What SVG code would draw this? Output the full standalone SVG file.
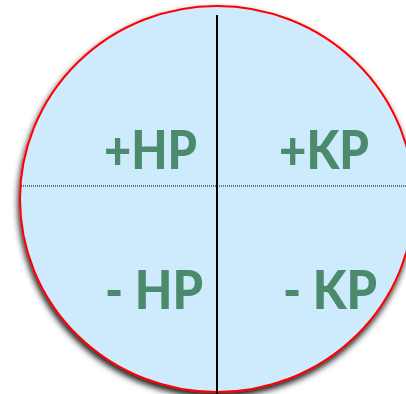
<svg xmlns="http://www.w3.org/2000/svg" width="406" height="394" viewBox="0 0 406 394">
<defs>
<filter id="sh" x="-10%" y="-10%" width="120%" height="125%">
<feDropShadow dx="-1" dy="4" stdDeviation="3" flood-color="#000" flood-opacity="0.9"/>
</filter>
<style>
.lbl{font-family:Lato,"Open Sans","Liberation Sans",sans-serif;font-weight:900;font-size:54px;fill:#4c8a6d}
</style>
</defs>
<g id="circle">
<ellipse cx="217" cy="199" rx="197" ry="193" fill="#cdebfd" stroke="#ff0000" stroke-width="2" filter="url(#sh)"/>
</g>
<g id="connectors">
<line x1="217" y1="15" x2="217" y2="394" stroke="#000" stroke-width="2"/>
<line x1="21" y1="186" x2="406" y2="186" stroke="#000" stroke-width="1" stroke-dasharray="1,1"/>
</g>
<g id="q1"><text class="lbl" x="104" y="169" textLength="93" lengthAdjust="spacingAndGlyphs">+HP</text></g>
<g id="q2"><text class="lbl" x="279" y="169" textLength="90" lengthAdjust="spacingAndGlyphs">+KP</text></g>
<g id="q3"><text class="lbl" x="105" y="309" textLength="98" lengthAdjust="spacingAndGlyphs" xml:space="preserve">- HP</text></g>
<g id="q4"><text class="lbl" x="283" y="309" textLength="94" lengthAdjust="spacingAndGlyphs" xml:space="preserve">- KP</text></g>
</svg>
